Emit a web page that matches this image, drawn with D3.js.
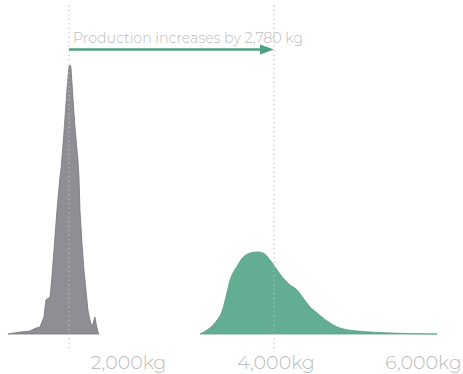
<!DOCTYPE html>
<html><head><meta charset="utf-8">
<script src="https://cdn.jsdelivr.net/npm/d3@7"></script>
<style>
body{margin:0;background:#fff;}
svg{display:block;font-family:Montserrat,"Lato","Open Sans",sans-serif;}
</style></head><body>
<div id="chart"></div>
<script>
// Before: production (kg) and relative density
const beforeKg = [372,535,670,752,806,860,887,942,969,996,1037,1077,1091,1131,1172,1199,1213,1226,1253,1281,1321,1335,1349,1376,1403,1430,1457,1484,1511,1539,1552,1566,1593,1606];
const beforeDensity = [0,0.007,0.011,0.022,0.026,0.063,0.126,0.138,0.212,0.312,0.461,0.584,0.610,0.747,0.907,0.993,1.0,0.993,0.881,0.770,0.647,0.584,0.461,0.338,0.238,0.164,0.089,0.052,0.026,0.052,0.063,0.041,0.007,0];
// After
const afterKg = [2977,3072,3153,3208,3248,3275,3330,3384,3479,3560,3656,3764,3832,3927,4022,4103,4198,4293,4375,4470,4565,4646,4741,4836,4918,5108,5379,5650,5922,6193];
const afterDensity = [0,0.015,0.033,0.052,0.068,0.085,0.140,0.200,0.252,0.285,0.301,0.305,0.301,0.275,0.238,0.208,0.182,0.164,0.134,0.100,0.078,0.059,0.041,0.026,0.019,0.011,0.006,0.003,0.001,0];
const means = [1200, 3980];
const increaseLabel = "Production increases by 2,780 kg";
const tickValues = [2000, 4000, 6000];

const W = 463, H = 374;
const svg = d3.select("#chart").append("svg").attr("width", W).attr("height", H);

const x = d3.scaleLinear().domain([2000, 6000]).range([128, 423]);
const y = d3.scaleLinear().domain([0, 1]).range([334, 65]);

const beforeData = beforeKg.map((k, i) => ({k, d: beforeDensity[i]}));
const afterData = afterKg.map((k, i) => ({k, d: afterDensity[i]}));

const areaLin = d3.area().x(p => x(p.k)).y0(y(0)).y1(p => y(p.d)).curve(d3.curveLinear);
const areaSmooth = d3.area().x(p => x(p.k)).y0(y(0)).y1(p => y(p.d)).curve(d3.curveMonotoneX);

svg.append("path").datum(beforeData).attr("d", areaLin)
  .attr("fill", "#8f8e94").attr("stroke", "#77767c").attr("stroke-width", 0.8);
svg.append("path").datum(afterData).attr("d", areaSmooth)
  .attr("fill", "#63ad93").attr("stroke", "#559f86").attr("stroke-width", 0.8);

// dotted mean lines
svg.selectAll("line.mean").data(means).join("line")
  .attr("class", "mean")
  .attr("x1", d => x(d)).attr("x2", d => x(d))
  .attr("y1", 5).attr("y2", 352)
  .attr("stroke", "#b9c2bf").attr("stroke-width", 1)
  .attr("stroke-dasharray", "1.5,3");

// arrow
const ay = 49.5;
svg.append("line")
  .attr("x1", x(means[0])).attr("x2", x(means[1]) - 10)
  .attr("y1", ay).attr("y2", ay)
  .attr("stroke", "#4f9f85").attr("stroke-width", 2.5);
svg.append("path")
  .attr("d", d3.line()([[x(means[1]) - 14, ay - 5], [x(means[1]), ay], [x(means[1]) - 14, ay + 5]]) + "Z")
  .attr("fill", "#4f9f85");

svg.append("text")
  .attr("x", x(means[0]) + 4).attr("y", 42.5)
  .attr("font-size", 14.2).attr("font-weight", 300)
  .attr("fill", "#bcbcbc")
  .text(increaseLabel);

// axis
const axis = d3.axisBottom(x).tickValues(tickValues).tickSize(0)
  .tickFormat(d => d3.format(",")(d) + "kg");
const g = svg.append("g").attr("transform", "translate(0,352)").call(axis);
g.select(".domain").remove();
g.selectAll("text").attr("font-size", 19).attr("font-weight", 300)
  .attr("fill", "#bcbcbc").attr("font-family", "Montserrat,Lato,'Open Sans',sans-serif");
</script>
</body></html>
